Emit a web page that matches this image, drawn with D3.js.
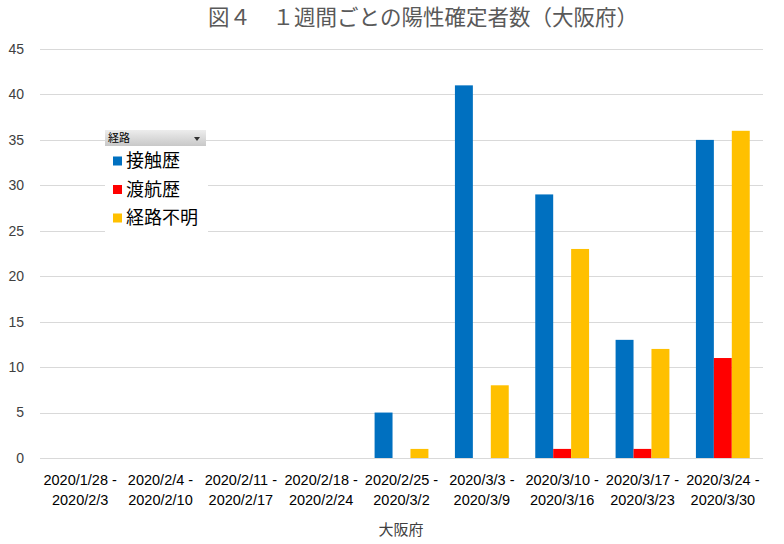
<!DOCTYPE html>
<html><head><meta charset="utf-8">
<script src="https://cdn.jsdelivr.net/npm/d3@7"></script>
<style>body{margin:0;background:#fff;} svg{display:block;}</style>
</head><body>
<svg id="c" width="784" height="544"></svg>
<script>
const categories = [
  ["2020/1/28 -","2020/2/3"],
  ["2020/2/4 -","2020/2/10"],
  ["2020/2/11 -","2020/2/17"],
  ["2020/2/18 -","2020/2/24"],
  ["2020/2/25 -","2020/3/2"],
  ["2020/3/3 -","2020/3/9"],
  ["2020/3/10 -","2020/3/16"],
  ["2020/3/17 -","2020/3/23"],
  ["2020/3/24 -","2020/3/30"]
];
const seriesNames = ["接触歴","渡航歴","経路不明"];
const contact = [0,0,0,0,5,41,29,13,35];
const travel  = [0,0,0,0,0,0,1,1,11];
const unknown = [0,0,0,0,1,8,23,12,36];
const yTicks = [0,5,10,15,20,25,30,35,40,45];
const colors = ["#0070C0","#FF0000","#FFC000"];
const title = "図４　１週間ごとの陽性確定者数（大阪府）";
const xTitle = "大阪府";
const legendTitle = "経路";

const series = [contact, travel, unknown];
const svg = d3.select("#c");
const L = 40, R = 763, T = 49, B = 458;
const numFont = "'Liberation Sans', sans-serif";
const cjk = "'Noto Sans CJK JP', sans-serif";

const x0 = d3.scaleBand().domain(d3.range(categories.length)).range([L, R]).paddingInner(0.33).paddingOuter(0.165);
const x1 = d3.scaleBand().domain(d3.range(series.length)).range([0, x0.bandwidth()]);
const y = d3.scaleLinear().domain([0,45]).range([B, T]);

// gridlines
svg.append("g").selectAll("line").data(yTicks).join("line")
  .attr("x1", L).attr("x2", R)
  .attr("y1", d => Math.round(y(d)) + 0.5).attr("y2", d => Math.round(y(d)) + 0.5)
  .attr("stroke", "#D9D9D9").attr("stroke-width", 1);

// y labels
svg.append("g").selectAll("text").data(yTicks).join("text")
  .attr("x", 24).attr("y", d => y(d)).attr("dy", "0.35em")
  .attr("text-anchor", "end").attr("font-family", numFont).attr("font-size", 14)
  .attr("fill", "#404040").text(d => d);

// bars
const g = svg.append("g");
categories.forEach((c, i) => {
  series.forEach((s, j) => {
    const v = s[i];
    if (v <= 0) return;
    g.append("rect")
      .attr("x", x0(i) + x1(j)).attr("width", x1.bandwidth())
      .attr("y", y(v)).attr("height", B - y(v))
      .attr("fill", colors[j]);
  });
});

// x labels
const xl = svg.append("g");
categories.forEach((c, i) => {
  const cx = x0(i) + x0.bandwidth() / 2;
  c.forEach((line, k) => {
    xl.append("text").attr("x", cx).attr("y", 480 + k * 20).attr("dy", "0.35em")
      .attr("text-anchor", "middle").attr("font-family", numFont).attr("font-size", 14.5)
      .attr("fill", "#000").text(line);
  });
});

// axis title
svg.append("text").attr("x", 401).attr("y", 530).attr("dy", "0.35em")
  .attr("text-anchor", "middle").attr("font-family", cjk).attr("font-size", 15)
  .attr("fill", "#404040").text(xTitle);

// title
svg.append("text").attr("x", 423).attr("y", 17).attr("dy", "0.35em")
  .attr("text-anchor", "middle").attr("font-family", cjk).attr("font-size", 21.5)
  .attr("fill", "#595959").text(title);

// legend
const lg = svg.append("g");
lg.append("rect").attr("x", 105).attr("y", 146).attr("width", 103).attr("height", 87).attr("fill", "#fff");
const grad = svg.append("defs").append("linearGradient").attr("id", "hg").attr("x1", 0).attr("x2", 0).attr("y1", 0).attr("y2", 1);
grad.append("stop").attr("offset", "0%").attr("stop-color", "#EDEDED");
grad.append("stop").attr("offset", "100%").attr("stop-color", "#C8C8C8");
lg.append("rect").attr("x", 105).attr("y", 130).attr("width", 101).attr("height", 16).attr("fill", "url(#hg)");
lg.append("text").attr("x", 108).attr("y", 138.5).attr("dy", "0.35em")
  .attr("font-family", cjk).attr("font-size", 11).attr("fill", "#000").text(legendTitle);
lg.append("path").attr("d", "M194,137 L200,137 L197,141 Z").attr("fill", "#333");
seriesNames.forEach((n, j) => {
  const cy = 161 + j * 28.5;
  lg.append("rect").attr("x", 113).attr("y", cy - 4.5).attr("width", 9).attr("height", 9).attr("fill", colors[j]);
  lg.append("text").attr("x", 126).attr("y", cy).attr("dy", "0.35em")
    .attr("font-family", cjk).attr("font-size", 18).attr("fill", "#000").text(n);
});
</script>
</body></html>
